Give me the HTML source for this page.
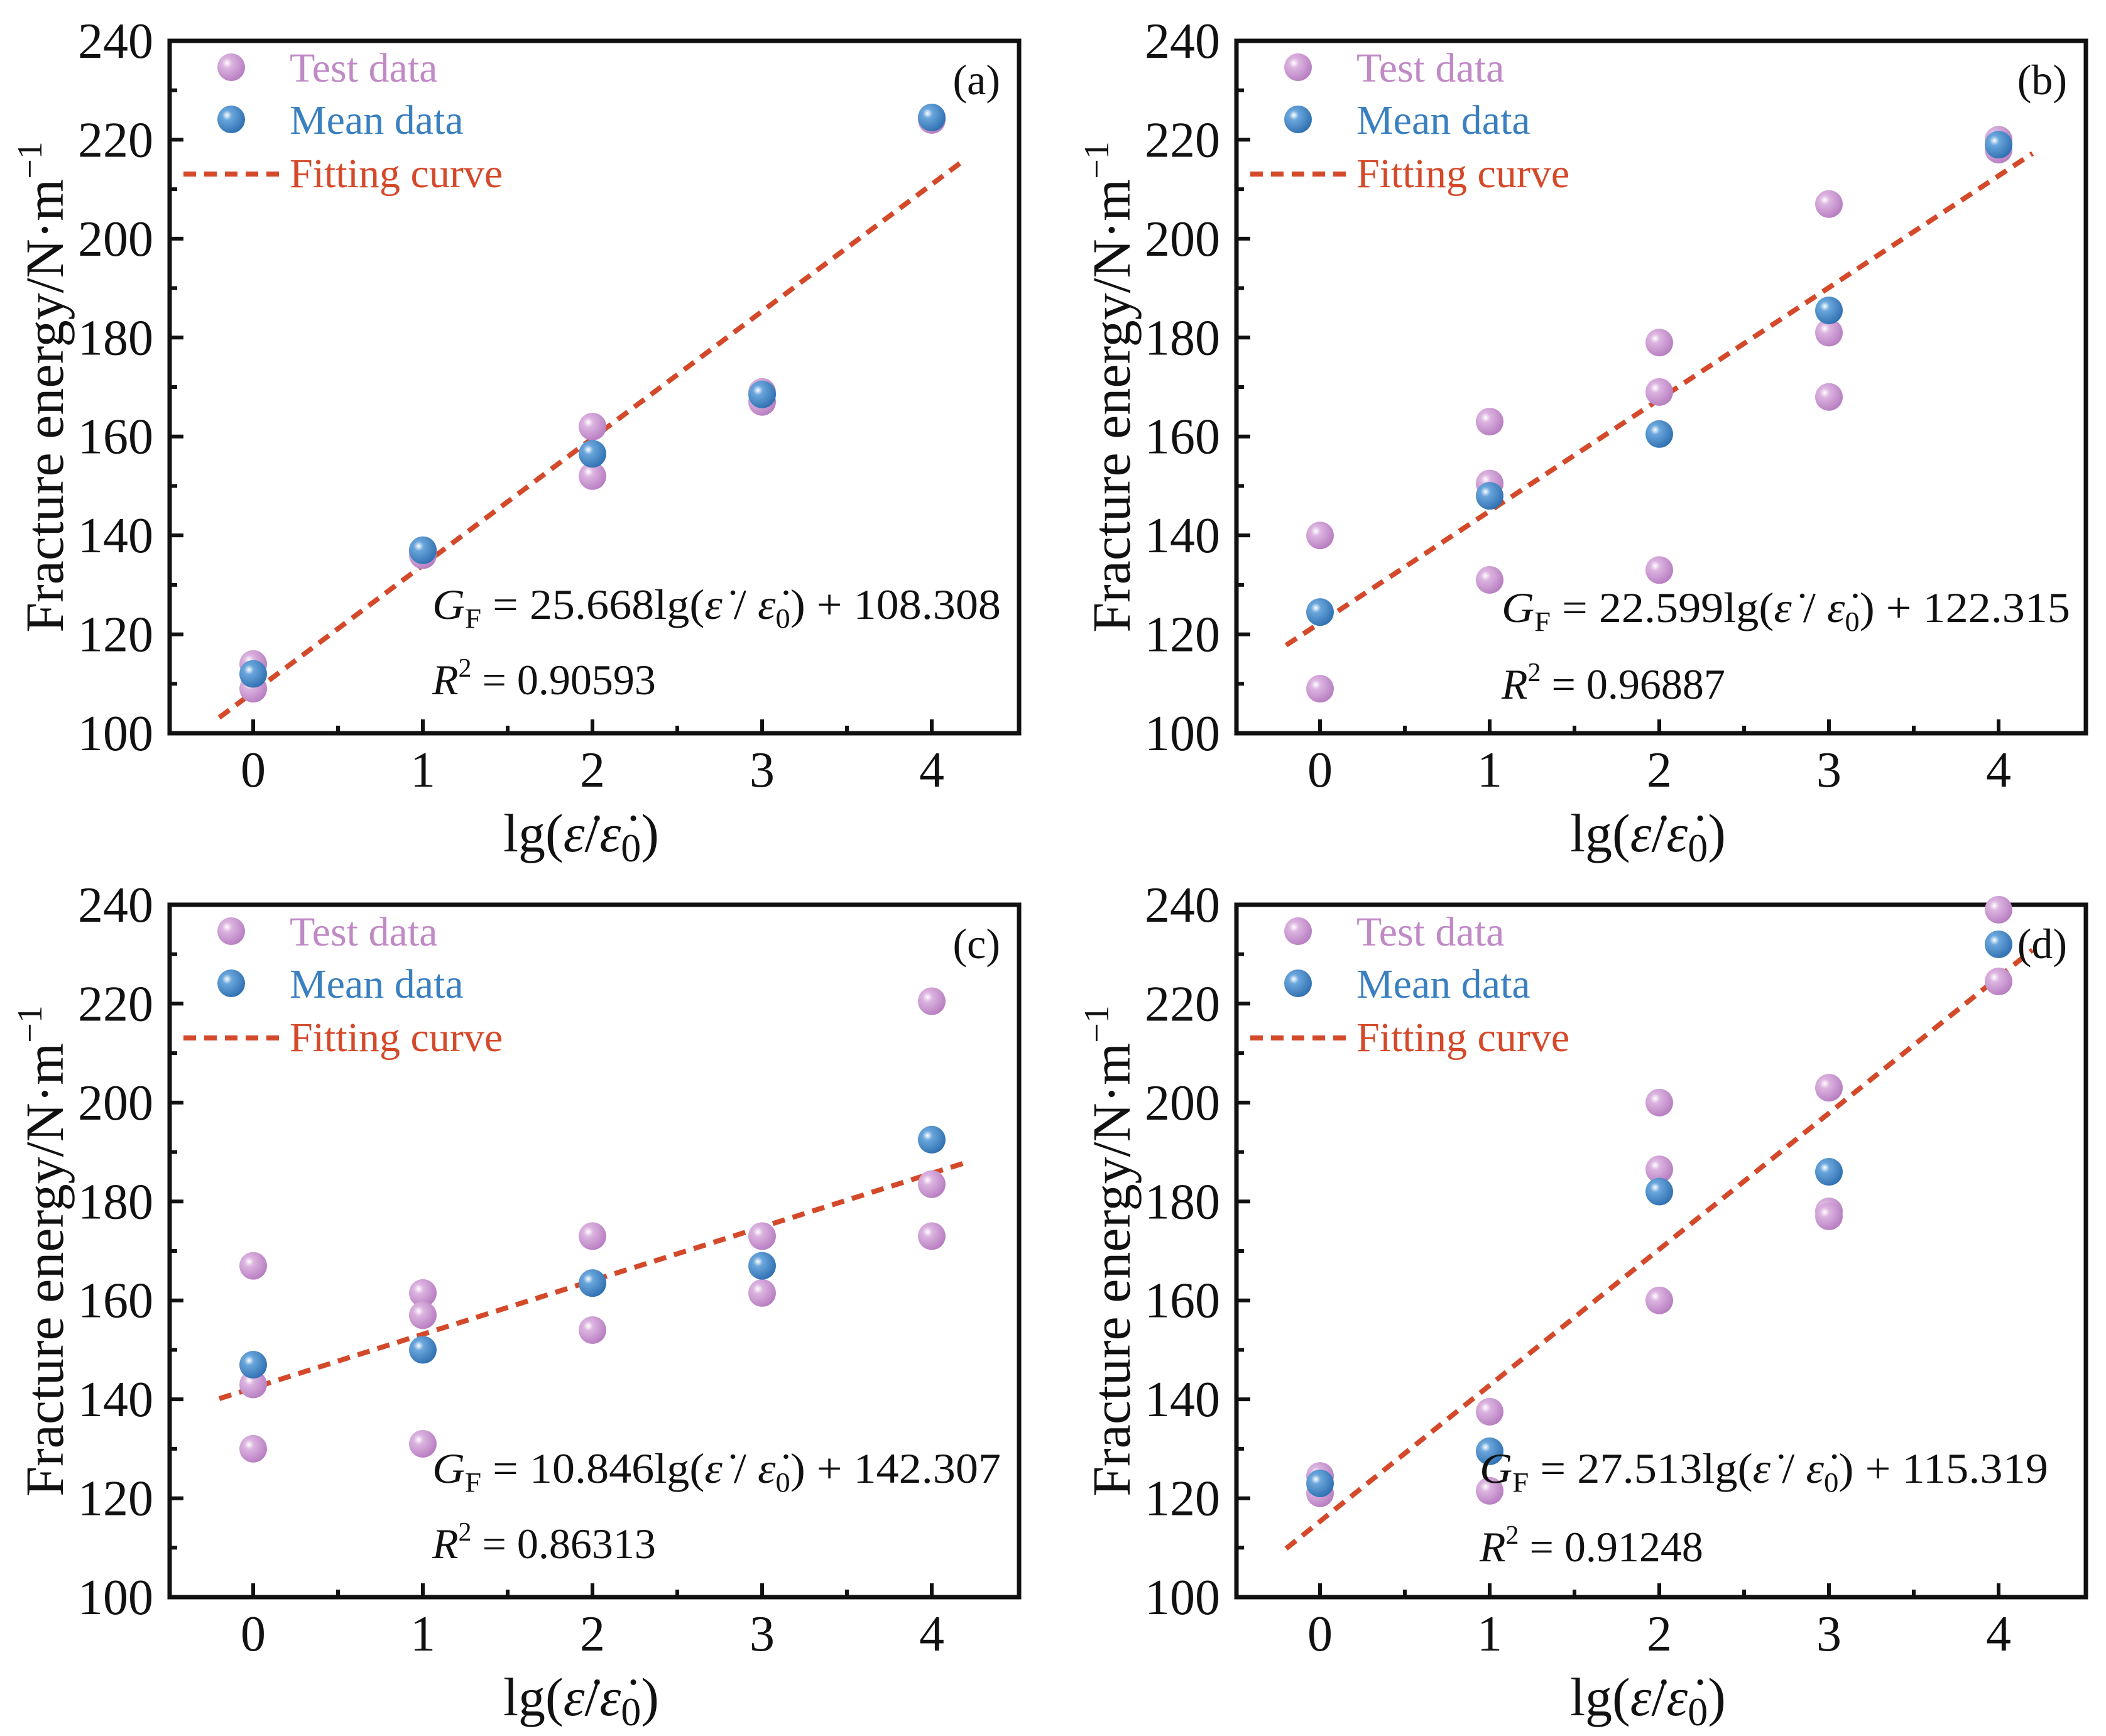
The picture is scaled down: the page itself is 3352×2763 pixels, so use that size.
<!DOCTYPE html>
<html><head><meta charset="utf-8">
<style>
html,body{margin:0;padding:0;background:#fff;}
svg{display:block;}
text{font-family:"Liberation Serif",serif;}
</style></head>
<body>
<svg id="fig" width="3352" height="2763" viewBox="0 0 3352 2763" xmlns="http://www.w3.org/2000/svg">
<defs>
<radialGradient id="gPink" cx="0.35" cy="0.35" r="0.7">
<stop offset="0" stop-color="#ffffff"/><stop offset="0.25" stop-color="#dcb4e0"/><stop offset="1" stop-color="#b67cc0"/>
</radialGradient>
<radialGradient id="gBlue" cx="0.35" cy="0.35" r="0.7">
<stop offset="0" stop-color="#ffffff"/><stop offset="0.25" stop-color="#6aa6dc"/><stop offset="1" stop-color="#2e6fb0"/>
</radialGradient>
</defs>
</svg>
<script>
// ---- data ----
const xTicks = [0,1,2,3,4];
const yTicks = [100,120,140,160,180,200,220,240];
const panelLabels = ["(a)","(b)","(c)","(d)"];
const testA_x = [0,0,1,1,2,2,3,3,4];
const testA_y = [114,109,137,136,162,152,169,167,224];
const meanA = [112,137,156.5,168.5,224.5];
const testB_x = [0,0,1,1,1,2,2,2,3,3,3,4,4];
const testB_y = [140,109,163,150.5,131,179,169,133,207,181,168,220,218];
const meanB = [124.5,148,160.5,185.5,219];
const testC_x = [0,0,0,1,1,1,2,2,3,3,4,4,4];
const testC_y = [167,143,130,161.5,157,131,173,154,173,161.5,220.5,183.5,173];
const meanC = [147,150,163.5,167,192.5];
const testD_x = [0,0,1,1,2,2,2,3,3,3,4,4];
const testD_y = [124.5,121,137.5,121.5,200,186.5,160,203,178,177,239,224.5];
const meanD = [123,129.5,182,186,232];
const slopes = [25.668,22.599,10.846,27.513];
const intercepts = [108.308,122.315,142.307,115.319];
const eqSlopeText = ["25.668","22.599","10.846","27.513"];
const eqIntText = ["108.308","122.315","142.307","115.319"];
const r2Text = ["0.90593","0.96887","0.86313","0.91248"];

const svg = document.getElementById('fig');
const NS = "http://www.w3.org/2000/svg";
function mk(tag, attrs, parent){
  const e = document.createElementNS(NS, tag);
  for (const k in attrs) e.setAttribute(k, attrs[k]);
  (parent||svg).appendChild(e);
  return e;
}
const panels = [
  {ox:0, oy:0, tx:testA_x, ty:testA_y, mean:meanA, eq:[688,985], r2:[688,1105]},
  {ox:1698, oy:0, tx:testB_x, ty:testB_y, mean:meanB, eq:[692,990], r2:[692,1112]},
  {ox:0, oy:1375, tx:testC_x, ty:testC_y, mean:meanC, eq:[688,985], r2:[688,1105]},
  {ox:1698, oy:1375, tx:testD_x, ty:testD_y, mean:meanD, eq:[657,985], r2:[657,1110]}
];
const L=270, R=1622, T=65, B=1167;
panels.forEach((p, i) => {
  const g = mk('g', {transform:`translate(${p.ox},${p.oy})`});
  
  
  const X = v => 403 + v*270;
  const Y = v => B - (v-100)/140*(B-T);
  const box = mk('rect', {x:L, y:T, width:R-L, height:B-T, fill:'none', stroke:'#111', 'stroke-width':7}, g);
  
  
  for (let k=0;k<=9;k++){
    const v = -0.5 + k*0.5; if (v < -0.45 || v > 4.45) continue;
    const major = Number.isInteger(v);
    mk('line', {x1:X(v), x2:X(v), y1:B, y2:B-(major?22:12), stroke:'#111','stroke-width':6}, g);
  }
  xTicks.forEach(v => {
    const t = mk('text', {x:X(v), y:1252, 'font-size':80, 'text-anchor':'middle', fill:'#111'}, g);
    t.textContent = v;
    
    
  });
  for (let v=100; v<=240; v+=10){
    const major = v%20===0;
    mk('line', {x1:L, x2:L+(major?22:12), y1:Y(v), y2:Y(v), stroke:'#111','stroke-width':6}, g);
  }
  yTicks.forEach(v => {
    const t = mk('text', {x:244, y:Y(v)+27, 'font-size':80, 'text-anchor':'end', fill:'#111'}, g);
    t.textContent = v;
    
    
  });
  const yt = mk('text', {x:0, y:0, 'font-size':86, 'text-anchor':'middle', fill:'#111', transform:`translate(100,${(T+B)/2}) rotate(-90)`}, g);
  yt.innerHTML = 'Fracture energy/N·m<tspan dy="-34" font-size="56">−1</tspan>';
  
  
  const xt = mk('text', {x:925, y:1355, 'font-size':86, 'text-anchor':'middle', fill:'#111'}, g);
  xt.innerHTML = 'lg(<tspan font-style="italic">ε̇</tspan>/<tspan font-style="italic">ε̇</tspan><tspan dy="16" font-size="64">0</tspan><tspan dy="-16">)</tspan>';
  
  
  const fl = mk('line', {x1:X(-0.2), y1:Y(slopes[i]*-0.2+intercepts[i]), x2:X(4.2), y2:Y(slopes[i]*4.2+intercepts[i]), stroke:'#d4492a', 'stroke-width':8, 'stroke-dasharray':'20 13'}, g);
  
  
  p.tx.forEach((xv, j) => {
    const c = mk('circle', {cx:X(xv), cy:Y(p.ty[j]), r:22, fill:'url(#gPink)'}, g);
    
    
  });
  p.mean.forEach((mv, j) => {
    const c = mk('circle', {cx:X(xTicks[j]), cy:Y(mv), r:22, fill:'url(#gBlue)'}, g);
    
    
  });
  const l1 = mk('circle', {cx:368, cy:107, r:22, fill:'url(#gPink)'}, g);
  
  
  const t1 = mk('text', {x:461, y:130, 'font-size':66, fill:'#c08ac6'}, g);
  t1.textContent = 'Test data';
  
  
  const l2 = mk('circle', {cx:368, cy:190, r:22, fill:'url(#gBlue)'}, g);
  
  
  const t2 = mk('text', {x:461, y:213, 'font-size':66, fill:'#3a7fc0'}, g);
  t2.textContent = 'Mean data';
  
  
  const l3 = mk('line', {x1:292, x2:446, y1:277, y2:277, stroke:'#d4492a', 'stroke-width':8, 'stroke-dasharray':'20 13'}, g);
  
  
  const t3 = mk('text', {x:461, y:298, 'font-size':66, fill:'#d4492a'}, g);
  t3.textContent = 'Fitting curve';
  
  
  const pl = mk('text', {x:1592, y:150, 'font-size':68, 'text-anchor':'end', fill:'#111'}, g);
  pl.textContent = panelLabels[i];
  
  
  const eq = mk('text', {x:p.eq[0], y:p.eq[1], 'font-size':68, fill:'#111', textLength:905, lengthAdjust:'spacingAndGlyphs'}, g);
  eq.innerHTML = '<tspan font-style="italic">G</tspan><tspan dy="14" font-size="44">F</tspan><tspan dy="-14"> = ' + eqSlopeText[i] + 'lg(</tspan><tspan font-style="italic">ε̇</tspan> / <tspan font-style="italic">ε̇</tspan><tspan dy="14" font-size="44">0</tspan><tspan dy="-14">) + ' + eqIntText[i] + '</tspan>';
  
  
  const r2 = mk('text', {x:p.r2[0], y:p.r2[1], 'font-size':68, fill:'#111'}, g);
  r2.innerHTML = '<tspan font-style="italic">R</tspan><tspan dy="-28" font-size="42">2</tspan><tspan dy="28"> = ' + r2Text[i] + '</tspan>';
  
  
});
</script>
</body></html>
